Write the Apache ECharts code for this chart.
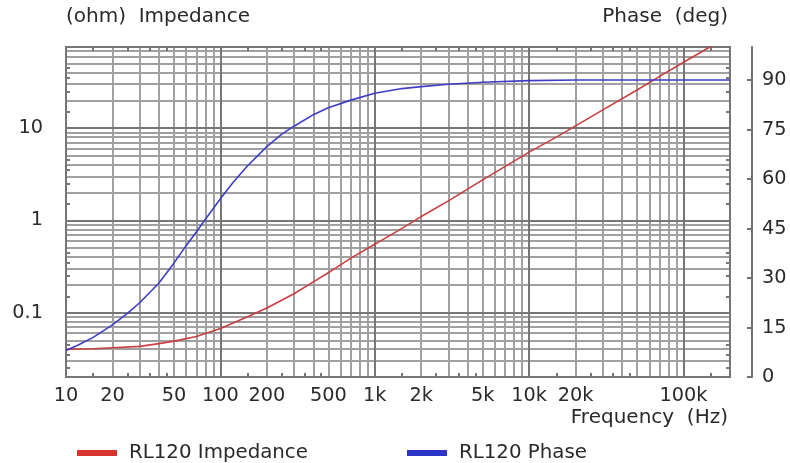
<!DOCTYPE html>
<html>
<head>
<meta charset="utf-8">
<title>RL120 Impedance / Phase</title>
<script src="https://cdn.jsdelivr.net/npm/echarts@6/dist/echarts.min.js"></script>
<style>
  html, body { margin: 0; padding: 0; background: #fff; }
  #chart { width: 790px; height: 463px; }
</style>
</head>
<body>
<div id="chart"></div>
<script>
// impedance curve (Hz -> ohm)
var freqZ = [10, 15, 20, 30, 40, 50, 70, 100, 150, 200, 300, 400, 500, 700, 1000, 1500, 2000, 3000, 5000, 7000, 10000, 15000, 20000, 30000, 50000, 70000, 100000, 150000, 200000];
var impedance = [0.040, 0.0405, 0.0415, 0.043, 0.046, 0.049, 0.055, 0.067, 0.090, 0.112, 0.160, 0.215, 0.27, 0.39, 0.55, 0.82, 1.10, 1.63, 2.75, 3.85, 5.5, 8.0, 10.6, 15.8, 26, 36.5, 52, 77, 103];

// phase curve (Hz -> deg)
var freqP = [10, 12, 15, 20, 25, 30, 40, 50, 60, 70, 80, 100, 120, 150, 200, 250, 300, 400, 500, 700, 1000, 1500, 2000, 3000, 5000, 10000, 20000, 200000];
var phase = [8.0, 9.7, 12.0, 15.8, 19.3, 22.5, 28.5, 34.5, 39.8, 44, 47.8, 54, 58.8, 64, 69.8, 73.6, 76, 79.5, 81.6, 83.9, 86, 87.4, 88, 88.7, 89.3, 89.8, 90, 90];

// axis ticks
var freqLabels = [10, 20, 50, 100, 200, 500, 1000, 2000, 5000, 10000, 20000, 100000];
var phaseTicks = [0, 15, 30, 45, 60, 75, 90];
var decades = [0.01, 0.1, 1, 10, 100, 1000, 10000, 100000];
var minorSteps = [2, 3, 4, 5, 6, 7, 8, 9];
var halfSteps = [1.5, 2.5, 3.5, 4.5];

var fMin = 10, fMax = 200000;
var zMin = 0.02, zMax = 76;

var font = 'DejaVu Sans';
var txt = '#2a2a2a';
var minorGrid = '#a0a0a0';
var majorGrid = '#767676';
var red = '#c93e3e', blue = '#3d3dc6';

// positions (log10) of grid lines / small ticks inside a range
function logs(steps, lo, hi) {
  var out = [];
  decades.forEach(function (d) {
    steps.forEach(function (k) {
      var v = k * d;
      if (v >= lo && v <= hi) out.push(Math.log10(v));
    });
  });
  return out;
}

function helper(lo, hi, extra) {
  return Object.assign({
    type: 'value', min: Math.log10(lo), max: Math.log10(hi),
    axisLine: {show: false, onZero: false}, axisTick: {show: false},
    axisLabel: {show: false}, splitLine: {show: false}
  }, extra);
}

var labelStyle = {fontFamily: font, fontSize: 19.3, color: txt};
var legendText = {fontFamily: font, fontSize: 19.8, color: txt, padding: [0, 0, 0, 7]};
var smallTick = {show: true, inside: true, length: 4, lineStyle: {color: majorGrid, width: 2}};

var myChart = echarts.init(document.getElementById('chart'));
myChart.setOption({
  animation: false,
  grid: {left: 66, right: 60, top: 47, bottom: 86, show: true, borderColor: majorGrid, borderWidth: 2, outerBoundsMode: 'none'},
  xAxis: [
    {type: 'log', min: fMin, max: fMax, z: 1,
      axisLine: {show: false, onZero: false}, axisTick: {show: false}, axisLabel: {show: false},
      splitLine: {show: true, lineStyle: {color: majorGrid, width: 2}}},
    helper(fMin, fMax, {position: 'bottom',
      axisTick: {show: false, customValues: logs(minorSteps, fMin, fMax)},
      splitLine: {show: true, lineStyle: {color: minorGrid, width: 2}},
      axisLabel: Object.assign({show: true, margin: 9, customValues: freqLabels.map(function (f) { return Math.log10(f); }),
        formatter: function (v) {
          var f = Math.round(Math.pow(10, v));
          return f >= 1000 ? (f / 1000) + 'k' : String(f);
        }}, labelStyle)}),
    helper(fMin, fMax, {position: 'bottom', axisTick: Object.assign({customValues: logs(halfSteps, fMin, fMax)}, smallTick)}),
    helper(fMin, fMax, {position: 'top', axisTick: Object.assign({customValues: logs(halfSteps, fMin, fMax)}, smallTick)})
  ],
  yAxis: [
    {type: 'log', min: zMin, max: zMax, position: 'left', z: 1,
      axisLine: {show: false, onZero: false}, axisTick: {show: false},
      splitLine: {show: true, lineStyle: {color: majorGrid, width: 2}},
      axisLabel: Object.assign({margin: 23, formatter: function (v) {
        var l = Math.log10(v);
        if (Math.abs(l - Math.round(l)) > 1e-6) return '';
        return String(+Math.pow(10, Math.round(l)).toPrecision(1));
      }}, labelStyle)},
    {type: 'value', min: 0, max: 100, position: 'right', offset: 22,
      axisLine: {show: true, onZero: false, lineStyle: {color: '#707070', width: 2}},
      axisTick: {show: true, inside: true, length: 5, customValues: phaseTicks, lineStyle: {color: '#707070', width: 2}},
      axisLabel: Object.assign({margin: 10, customValues: phaseTicks}, labelStyle),
      splitLine: {show: false}},
    helper(zMin, zMax, {position: 'left',
      axisTick: {show: false, customValues: logs(minorSteps, zMin, zMax)},
      splitLine: {show: true, lineStyle: {color: minorGrid, width: 2}}}),
    helper(zMin, zMax, {position: 'left', axisTick: Object.assign({customValues: logs(halfSteps, zMin, zMax)}, smallTick)}),
    helper(zMin, zMax, {position: 'right', axisTick: Object.assign({customValues: logs(halfSteps, zMin, zMax)}, smallTick)})
  ],
  legend: [
    {data: [{name: 'RL120 Impedance', itemStyle: {color: '#d6352f'}}], left: 72, top: 438, icon: 'rect',
      itemWidth: 40, itemHeight: 6, selectedMode: false, textStyle: legendText},
    {data: [{name: 'RL120 Phase', itemStyle: {color: '#2b35c8'}}], left: 402, top: 438, icon: 'rect',
      itemWidth: 40, itemHeight: 6, selectedMode: false, textStyle: legendText}
  ],
  graphic: [
    {type: 'text', left: 66, top: 7, style: {text: '(ohm)  Impedance', font: '20px "DejaVu Sans"', fill: txt}},
    {type: 'text', right: 62, top: 7, style: {text: 'Phase  (deg)', font: '20px "DejaVu Sans"', fill: txt}},
    {type: 'text', right: 62, top: 408, style: {text: 'Frequency  (Hz)', font: '20px "DejaVu Sans"', fill: txt}}
  ],
  series: [
    {name: 'RL120 Impedance', type: 'line', xAxisIndex: 0, yAxisIndex: 0,
      data: freqZ.map(function (f, i) { return [f, impedance[i]]; }),
      symbol: 'none', clip: true,
      itemStyle: {color: red}, lineStyle: {color: red, width: 1.6}},
    {name: 'RL120 Phase', type: 'line', xAxisIndex: 0, yAxisIndex: 1,
      data: freqP.map(function (f, i) { return [f, phase[i]]; }),
      symbol: 'none', clip: true,
      itemStyle: {color: blue}, lineStyle: {color: blue, width: 1.6}}
  ]
});
</script>
</body>
</html>
